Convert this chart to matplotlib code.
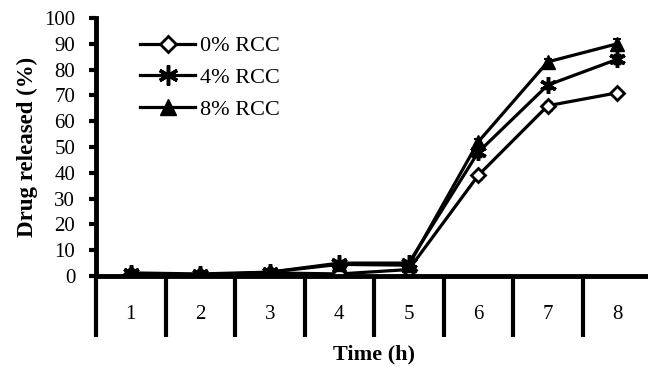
import matplotlib
matplotlib.use("Agg")
import matplotlib.pyplot as plt
import numpy as np

hours = ["1", "2", "3", "4", "5", "6", "7", "8"]
rcc0 = [0.8, 0.5, 1.2, 0.8, 2.5, 39, 66, 71]
rcc4 = [1.2, 0.8, 1.5, 5.0, 5.0, 48, 74, 84]
rcc8 = [0.8, 0.3, 1.5, 4.5, 4.2, 52, 83, 90]
err0 = [0.5, 0.5, 0.5, 0.5, 0.5, 1.5, 1.5, 1.0]
err4 = [0.5, 0.5, 0.5, 0.5, 0.5, 1.5, 1.0, 1.5]
err8 = [0.5, 0.5, 0.5, 0.5, 0.5, 1.0, 1.0, 2.0]
labels = ["0% RCC", "4% RCC", "8% RCC"]

plt.rcParams['font.family'] = ['Liberation Serif', 'DejaVu Serif']

fig = plt.figure(figsize=(6.48, 3.67), dpi=100)
ax = fig.add_axes([96/648, 91/367, 556/648, 258/367])

x = np.arange(1, len(hours) + 1)
common = dict(color='black', lw=2.3, capsize=3, elinewidth=1.5, capthick=1.5)
e0 = ax.errorbar(x, rcc0, yerr=err0, marker='D', ms=7, mfc='white', mec='black', mew=2,
                 **common)
e4 = ax.errorbar(x, rcc4, yerr=err4, marker=(6, 2, 0), ms=12, mec='black', mew=2.5,
                 **common)
e8 = ax.errorbar(x, rcc8, yerr=err8, marker='^', ms=10, mfc='black', mec='black',
                 **common)

ax.set_xlim(0.5, len(hours) + 0.5)
ax.set_ylim(0, 100)
ax.set_yticks(np.arange(0, 101, 10))
ax.tick_params(axis='y', direction='out', length=5, width=3, labelsize=15, pad=10)

ax.set_xticks(np.arange(0.5, len(hours) + 1, 1))
ax.set_xticklabels([])
ax.tick_params(axis='x', which='major', direction='out', length=44, width=3)
ax.set_xticks(x, minor=True)
ax.set_xticklabels(hours, minor=True)
ax.tick_params(axis='x', which='minor', length=0, labelsize=15, pad=21)

for s in ['top', 'right']:
    ax.spines[s].set_visible(False)
for s in ['left', 'bottom']:
    ax.spines[s].set_linewidth(3.5)

ax.set_ylabel("Drug released (%)", fontsize=16.5, fontweight='bold', labelpad=4)
ax.set_xlabel("Time (h)", fontsize=16, fontweight='bold', labelpad=2)

leg = ax.legend([e0[0], e4[0], e8[0]], labels, loc='upper left',
                bbox_to_anchor=(131/648, 340/367),
                bbox_transform=fig.transFigure, frameon=False, fontsize=16,
                handlelength=2.5, handletextpad=0.2, labelspacing=0.5,
                borderaxespad=0, markerscale=1.2)

fig.savefig("out.png", dpi=100)
